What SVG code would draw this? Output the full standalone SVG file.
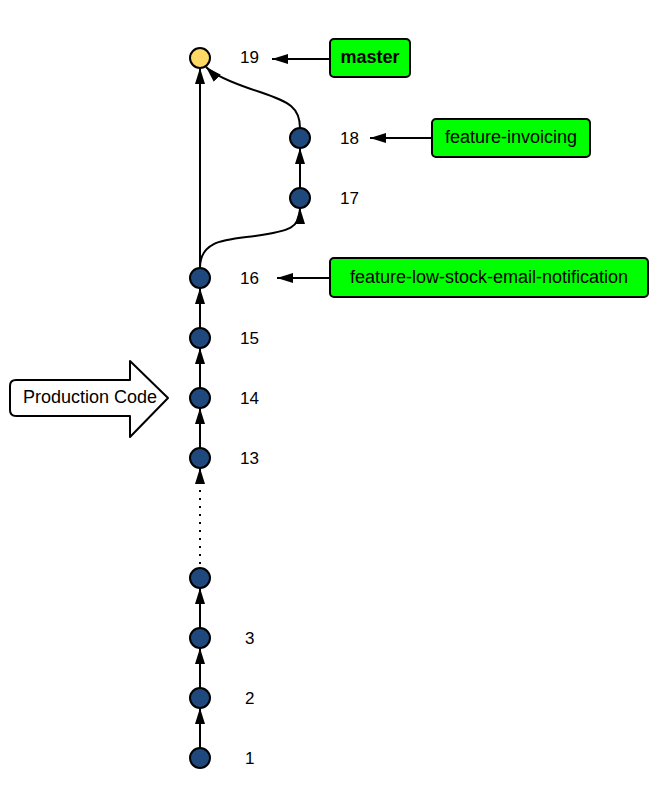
<svg xmlns="http://www.w3.org/2000/svg" width="664" height="785" viewBox="0 0 664 785">
  <style>
    .commit { fill: #1f497d; stroke: #000; stroke-width: 2; }
    .head { fill: #ffd966; stroke: #000; stroke-width: 2; }
    .edge { fill: none; stroke: #000; stroke-width: 2; }
    .dots { fill: none; stroke: #000; stroke-width: 2; stroke-dasharray: 2 6; }
    .num { font-family: "Liberation Sans", Arial, sans-serif; font-size: 17px; fill: #000; }
    .tag { fill: #00ff00; stroke: #000; stroke-width: 2; }
    .tagtxt { font-family: "Liberation Sans", Arial, sans-serif; font-size: 18px; fill: #000; text-anchor: middle; }
  </style>
  <defs>
    <marker id="arr" viewBox="0 0 16 10" refX="16" refY="5" markerWidth="16" markerHeight="10" markerUnits="userSpaceOnUse" orient="auto">
      <path d="M0,0 L16,5 L0,10 Z" fill="#000"/>
    </marker>
  </defs>

  <!-- connectors -->
  <g id="connectors">
    <line class="edge" x1="200" y1="748" x2="200" y2="708" marker-end="url(#arr)"/>
    <line class="edge" x1="200" y1="688" x2="200" y2="648" marker-end="url(#arr)"/>
    <line class="edge" x1="200" y1="628" x2="200" y2="588" marker-end="url(#arr)"/>
    <line class="dots" x1="200" y1="564" x2="200" y2="484"/>
    <line class="edge" x1="200" y1="484" x2="200" y2="468" marker-end="url(#arr)"/>
    <line class="edge" x1="200" y1="448" x2="200" y2="408" marker-end="url(#arr)"/>
    <line class="edge" x1="200" y1="388" x2="200" y2="348" marker-end="url(#arr)"/>
    <line class="edge" x1="200" y1="328" x2="200" y2="288" marker-end="url(#arr)"/>
    <line class="edge" x1="200" y1="268" x2="200" y2="68" marker-end="url(#arr)"/>
    <path class="edge" d="M200,268 C200,240 225,240 255,236 C290,231 300,228 300,208" marker-end="url(#arr)"/>
    <line class="edge" x1="300" y1="188" x2="300" y2="148" marker-end="url(#arr)"/>
    <path class="edge" d="M300,128 C300,108 290,102 260,92 C235,84 215,76 206,67" marker-end="url(#arr)"/>
    <line class="edge" x1="330" y1="59" x2="272" y2="59" marker-end="url(#arr)"/>
    <line class="edge" x1="432" y1="138" x2="370" y2="138" marker-end="url(#arr)"/>
    <line class="edge" x1="330" y1="278" x2="277" y2="278" marker-end="url(#arr)"/>
  </g>

  <!-- commits -->
  <g id="c1"><circle class="commit" cx="200" cy="758" r="10"/><text class="num" x="245" y="764">1</text></g>
  <g id="c2"><circle class="commit" cx="200" cy="698" r="10"/><text class="num" x="245" y="704">2</text></g>
  <g id="c3"><circle class="commit" cx="200" cy="638" r="10"/><text class="num" x="245" y="644">3</text></g>
  <g id="c12"><circle class="commit" cx="200" cy="578" r="10"/></g>
  <g id="c13"><circle class="commit" cx="200" cy="458" r="10"/><text class="num" x="240" y="464">13</text></g>
  <g id="c14"><circle class="commit" cx="200" cy="398" r="10"/><text class="num" x="240" y="404">14</text></g>
  <g id="c15"><circle class="commit" cx="200" cy="338" r="10"/><text class="num" x="240" y="344">15</text></g>
  <g id="c16"><circle class="commit" cx="200" cy="278" r="10"/><text class="num" x="240" y="284">16</text></g>
  <g id="c17"><circle class="commit" cx="300" cy="198" r="10"/><text class="num" x="340" y="204">17</text></g>
  <g id="c18"><circle class="commit" cx="300" cy="138" r="10"/><text class="num" x="340" y="144">18</text></g>
  <g id="c19"><circle class="head" cx="200" cy="58" r="10"/><text class="num" x="240" y="63">19</text></g>

  <!-- branch labels -->
  <g id="master">
    <rect class="tag" x="330" y="39" width="80" height="38" rx="4"/>
    <text class="tagtxt" x="370" y="63" font-weight="bold">master</text>
  </g>
  <g id="feature-invoicing">
    <rect class="tag" x="432" y="119" width="158" height="38" rx="4"/>
    <text class="tagtxt" x="511" y="143">feature-invoicing</text>
  </g>
  <g id="feature-low-stock">
    <rect class="tag" x="330" y="258" width="318" height="39" rx="4"/>
    <text class="tagtxt" x="489" y="283">feature-low-stock-email-notification</text>
  </g>

  <!-- production marker -->
  <g id="production">
    <path d="M16,380 L130,380 L130,361 L168,398 L130,437 L130,416 L16,416 Q10,416 10,410 L10,386 Q10,380 16,380 Z" fill="#fff" stroke="#000" stroke-width="2" stroke-linejoin="round"/>
    <text x="90" y="403" font-family="Liberation Sans, Arial, sans-serif" font-size="18" text-anchor="middle">Production Code</text>
  </g>
</svg>
